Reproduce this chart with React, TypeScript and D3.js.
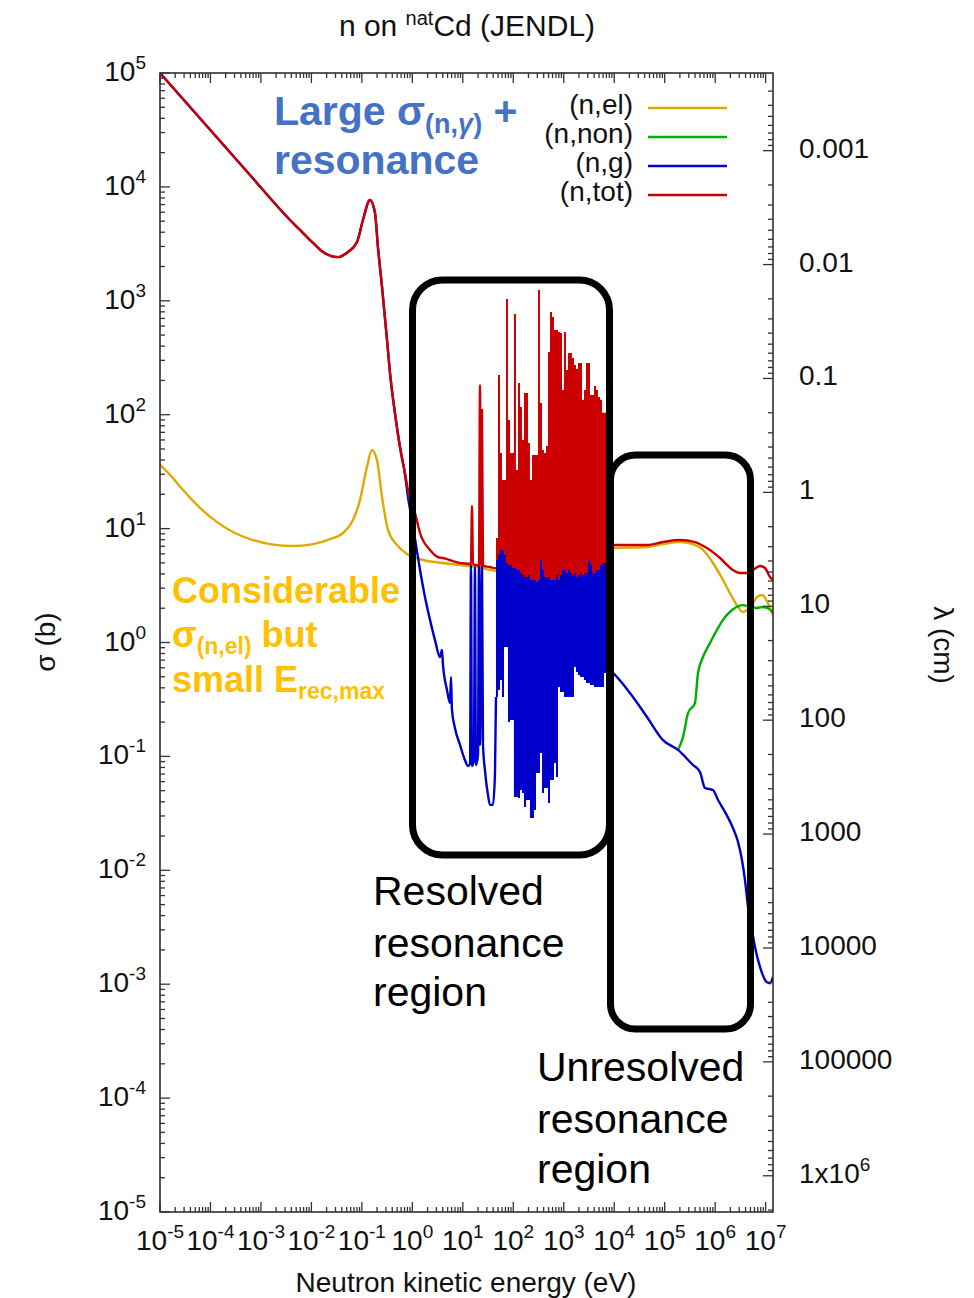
import React from "react";
import * as d3 from "d3";

const W = 974;
const H = 1298;
const FONT = "'Liberation Sans', Arial, Helvetica, sans-serif";

const C_EL = "#e0a800";
const C_NON = "#00b000";
const C_G = "#0000cc";
const C_TOT = "#cc0000";

// ---- data (energy in eV, cross-section in barn) ----
const xExponents = [-5, -4, -3, -2, -1, 0, 1, 2, 3, 4, 5, 6, 7];
const yExponents = [-5, -4, -3, -2, -1, 0, 1, 2, 3, 4, 5];
const lambdaTicks = [1e-3, 1e-2, 1e-1, 1, 10, 100, 1000, 1e4, 1e5, 1e6];
const lambdaLabels = ["0.001", "0.01", "0.1", "1", "10", "100", "1000", "10000", "100000", "1x10^6"];

const totalLow: [number, number][] = [
  [1e-5, 1e5], [6.07e-4, 1.27e4], [3.77e-3, 5120], [5.94e-3, 4190], [1.075e-2, 3220],
  [1.7e-2, 2680], [3.37e-2, 2420], [5.31e-2, 2680], [8.0e-2, 3280], [0.105, 5120],
  [0.145, 7670], [0.182, 5900], [0.208, 2970], [0.251, 1320], [0.315, 453], [0.361, 232],
  [0.453, 103], [0.569, 52], [0.714, 30.8], [0.899, 17.8], [1.13, 13.7], [1.42, 9.15],
  [2.24, 6.49], [3.22, 5.63], [4.05, 5.52], [8.8, 4.99], [13.9, 4.89], [14.5, 4.85],
  [15.2, 15.8], [15.9, 4.85], [18.2, 4.79], [20.9, 4.75], [21.9, 182], [22.9, 4.75],
  [24.0, 110], [25.1, 4.7], [34.6, 4.6], [41.5, 4.5], [45.4, 4.5],
];

const totalHigh: [number, number][] = [
  [6871, 7.03], [9462, 7.18], [4.46e4, 7.18], [9.25e4, 7.62], [2.01e5, 7.94], [3.98e5, 7.62],
  [6.89e5, 6.75], [1.25e6, 5.52], [2.25e6, 4.33], [3.1e6, 4.07], [4.28e6, 4.07], [5.62e6, 4.33],
  [7.73e6, 4.7], [9.7e6, 4.51], [1.22e7, 3.76], [1.4e7, 3.54],
];

const captureLow: [number, number][] = [
  [1e-5, 1e5], [6.07e-4, 1.27e4], [3.77e-3, 5120], [5.94e-3, 4190], [1.075e-2, 3220],
  [1.7e-2, 2680], [3.37e-2, 2420], [5.31e-2, 2680], [8.0e-2, 3280], [0.105, 5120],
  [0.145, 7670], [0.182, 5900], [0.208, 2970], [0.251, 1320], [0.315, 453], [0.361, 232],
  [0.453, 103], [0.569, 52], [0.714, 30], [0.82, 18.9], [0.984, 11.9], [1.18, 7.18],
  [1.42, 4.33], [1.78, 2.51], [2.24, 1.58], [2.81, 1.05], [3.53, 0.746], [3.87, 0.859],
  [4.05, 0.635], [4.86, 0.383], [5.57, 0.294], [5.83, 0.498], [6.1, 0.256], [7.0, 0.177],
  [8.8, 0.126], [11.0, 0.093], [12.7, 0.0824], [13.9, 0.0857], [14.5, 4.79], [15.2, 0.0824],
  [16.6, 0.093], [17.4, 4.6], [18.2, 0.0841], [20.0, 0.103], [20.9, 4.79], [21.9, 0.126],
  [24.0, 4.79], [25.1, 0.126], [27.5, 0.0751], [31.5, 0.0459], [34.6, 0.0375], [39.6, 0.0375],
  [43.4, 0.0715], [45.4, 0.332],
];

const captureHigh: [number, number][] = [
  [6871, 0.61], [9462, 0.54], [2.05e4, 0.36], [4.46e4, 0.222], [9.25e4, 0.139], [1.835e5, 0.114],
  [3.64e5, 0.084], [5.01e5, 0.0729], [6.29e5, 0.0528], [9.06e5, 0.0507], [1.14e6, 0.0414],
  [1.57e6, 0.0325], [2.25e6, 0.0235], [2.84e6, 0.0177], [3.4e6, 0.0123], [3.9e6, 0.00822],
  [4.48e6, 0.00476], [5.37e6, 0.00299], [6.15e6, 0.00212], [7.73e6, 0.00142], [1.064e7, 0.00104],
  [1.22e7, 0.00102], [1.4e7, 0.00116],
];

const elastic: [number, number][] = [
  [1e-5, 36.2], [1.58e-5, 29.6], [2.86e-5, 21.8], [6.2e-5, 15.2], [1.35e-4, 11.4], [2.79e-4, 9.33],
  [6.07e-4, 8.1], [1.51e-3, 7.3], [4.31e-3, 7.03], [1.075e-2, 7.3], [2.33e-2, 8.1], [4.23e-2, 9.15],
  [6.67e-2, 11.9], [9.18e-2, 17.8], [0.126, 34.7], [0.158, 49], [0.199, 40], [0.251, 18.9],
  [0.329, 9.74], [0.497, 7.18], [0.783, 5.99], [1.63, 5.3], [4.05, 4.99], [19.1, 4.6], [54.6, 4.23],
  [6871, 6.49], [9462, 6.75], [4.46e4, 6.89], [9.25e4, 7.32], [2.01e5, 7.62], [3.64e5, 7.3],
  [5.74e5, 6.49], [9.06e5, 4.99], [1.43e6, 3.54], [2.16e6, 2.51], [2.84e6, 2.05], [3.56e6, 1.85],
  [4.28e6, 1.93], [5.62e6, 2.22], [6.75e6, 2.51], [8.47e6, 2.61], [1.11e7, 2.22], [1.4e7, 1.74],
];

const nonelastic: [number, number][] = [
  [1.835e5, 0.114], [2.31e5, 0.148], [2.9e5, 0.24], [3.98e5, 0.294], [4.57e5, 0.54], [5.74e5, 0.746],
  [7.91e5, 0.99], [1.087e6, 1.29], [1.43e6, 1.58], [2.16e6, 1.93], [3.56e6, 2.13], [4.9e6, 2.05],
  [6.75e6, 2.01], [8.47e6, 2.05], [1.064e7, 2.01], [1.4e7, 1.85],
];

// resolved resonance region, read column by column
const resE = [
  45.4, 49.8, 54.6, 59.7, 65.5, 71.8, 78.5, 86.1, 94.4, 103, 113, 124, 136, 149, 163, 179, 196, 214,
  235, 257, 282, 309, 338, 371, 406, 445, 488, 534, 585, 641, 702, 769, 843, 923, 1010, 1107, 1213,
  1330, 1456, 1596, 1749, 1915, 2099, 2300, 2518, 2760, 3020, 3311, 3631, 3972, 4355, 4775, 5224,
  5728, 6266, 6871,
];
const resTotTop = [
  8.27, 223, 46.1, 26.7, 26.7, 1037, 89.8, 46.1, 46.1, 766, 32.7, 190, 117, 60, 155, 155, 56.5, 26.7,
  44.3, 44.3, 44.3, 1245, 127, 49, 46.1, 53.1, 355, 798, 721, 554, 554, 532, 521, 165, 532, 247, 348,
  348, 315, 273, 252, 284, 284, 135, 165, 284, 284, 149, 149, 179, 165, 143, 135, 104, 104, 34.7,
];
const resTotBottom = [
  5.3, 5.86, 6.49, 6.49, 5.86, 4.99, 4.79, 4.79, 4.51, 4.51, 4.33, 4.33, 4.07, 3.92, 3.76, 3.76, 3.92,
  3.54, 3.54, 3.54, 3.4, 3.54, 5.3, 4.33, 3.76, 3.76, 3.76, 3.54, 3.54, 3.54, 3.92, 3.54, 3.92, 4.33,
  4.33, 4.07, 4.33, 4.07, 3.92, 4.07, 3.76, 3.92, 4.07, 3.92, 4.07, 4.07, 5.3, 4.79, 4.07, 4.07, 4.33,
  4.33, 4.79, 4.99, 4.99, 4.99,
];
const resCapBottom = [
  0.332, 0.383, 0.469, 0.332, 0.913, 0.913, 0.2, 0.209, 0.209, 0.0441, 0.0441, 0.0432, 0.0507, 0.0478,
  0.036, 0.0414, 0.0414, 0.0288, 0.0288, 0.0338, 0.0715, 0.0715, 0.107, 0.0478, 0.0528, 0.0528, 0.039,
  0.0621, 0.0621, 0.0875, 0.0659, 0.406, 0.367, 0.367, 0.332, 0.332, 0.332, 0.332, 0.332, 0.61, 0.551,
  0.519, 0.498, 0.498, 0.469, 0.441, 0.441, 0.424, 0.424, 0.406, 0.406, 0.406, 0.406, 0.406, 0.54, 0.61,
];

const legendItems = [
  { label: "(n,el)", color: C_EL },
  { label: "(n,non)", color: C_NON },
  { label: "(n,g)", color: C_G },
  { label: "(n,tot)", color: C_TOT },
];

// ---- scales ----
const PL = 160, PR = 773, PT = 73, PB = 1212;
const x = d3.scaleLog().domain([1e-5, 1.4e7]).range([PL, PR]);
const y = d3.scaleLog().domain([1e-5, 1e5]).range([PB, PT]);
const yLam = d3.scaleLog().domain([2.08e-4, 2.08e6]).range([PT, PB]);

const line = d3
  .line<[number, number]>()
  .curve(d3.curveMonotoneX)
  .x((d) => x(d[0]))
  .y((d) => y(d[1]));

const resIdx = resE.map((_, i) => i);
const totArea = d3
  .area<number>()
  .curve(d3.curveStepAfter)
  .x((i) => x(resE[i]))
  .y0((i) => y(resTotBottom[i]))
  .y1((i) => y(resTotTop[i]));
const capArea = d3
  .area<number>()
  .curve(d3.curveStepAfter)
  .x((i) => x(resE[i]))
  .y0((i) => y(resCapBottom[i]))
  .y1((i) => y(resTotBottom[i]));

function minorTicks(loExp: number, hiExp: number, lo: number, hi: number) {
  const out: number[] = [];
  for (let e = loExp; e <= hiExp; e++) {
    for (let m = 2; m <= 9; m++) {
      const v = m * Math.pow(10, e);
      if (v > lo && v < hi) out.push(v);
    }
  }
  return out;
}

export default function App() {
  const xMinor = minorTicks(-5, 7, 1e-5, 1.4e7);
  const yMinor = minorTicks(-5, 4, 1e-5, 1e5);
  const lamMinor = minorTicks(-4, 6, 2.08e-4, 2.08e6);
  const tickColor = "#333";
  const lw = 2.4;

  return (
    <svg
      width={W}
      height={H}
      viewBox={`0 0 ${W} ${H}`}
      style={{ position: "absolute", left: 0, top: 0, background: "#fff" }}
      fontFamily={FONT}
    >
      <rect x={0} y={0} width={W} height={H} fill="#fff" />
      <defs>
        <clipPath id="plotClip">
          <rect x={PL} y={PT} width={PR - PL} height={PB - PT} />
        </clipPath>
      </defs>

      {/* title */}
      <text x={467} y={36} textAnchor="middle" fontSize={30} fill="#111">
        n on <tspan fontSize={20} dy={-11}>nat</tspan>
        <tspan dy={11}>Cd (JENDL)</tspan>
      </text>

      {/* curves */}
      <g clipPath="url(#plotClip)" fill="none" strokeLinejoin="round">
        <path d={line(elastic) || ""} stroke={C_EL} strokeWidth={lw} />
        <path d={line(nonelastic) || ""} stroke={C_NON} strokeWidth={lw} />
        <path d={capArea(resIdx) || ""} fill={C_G} stroke="none" />
        <path d={line(captureLow) || ""} stroke={C_G} strokeWidth={lw} />
        <path d={line(captureHigh) || ""} stroke={C_G} strokeWidth={lw} />
        <path d={totArea(resIdx) || ""} fill={C_TOT} stroke="none" />
        <path d={line(totalLow) || ""} stroke={C_TOT} strokeWidth={lw} />
        <path d={line(totalHigh) || ""} stroke={C_TOT} strokeWidth={lw} />
      </g>

      {/* frame */}
      <rect x={PL} y={PT} width={PR - PL} height={PB - PT} fill="none" stroke="#222" strokeWidth={1.5} />

      {/* ticks */}
      <g stroke={tickColor} strokeWidth={1.3}>
        {xExponents.map((e) => {
          const xv = x(Math.pow(10, e));
          return (
            <g key={"xt" + e}>
              <line x1={xv} x2={xv} y1={PB} y2={PB - 10} />
              <line x1={xv} x2={xv} y1={PT} y2={PT + 10} />
            </g>
          );
        })}
        {xMinor.map((v, i) => (
          <g key={"xm" + i}>
            <line x1={x(v)} x2={x(v)} y1={PB} y2={PB - 5} />
            <line x1={x(v)} x2={x(v)} y1={PT} y2={PT + 5} />
          </g>
        ))}
        {yExponents.map((e) => {
          const yv = y(Math.pow(10, e));
          return <line key={"yt" + e} x1={PL} x2={PL + 10} y1={yv} y2={yv} />;
        })}
        {yMinor.map((v, i) => (
          <line key={"ym" + i} x1={PL} x2={PL + 5} y1={y(v)} y2={y(v)} />
        ))}
        {lambdaTicks.map((v, i) => (
          <line key={"lt" + i} x1={PR} x2={PR - 10} y1={yLam(v)} y2={yLam(v)} />
        ))}
        {lamMinor.map((v, i) => (
          <line key={"lm" + i} x1={PR} x2={PR - 5} y1={yLam(v)} y2={yLam(v)} />
        ))}
      </g>

      {/* tick labels */}
      <g fontSize={28} fill="#111">
        {xExponents.map((e) => (
          <text key={"xl" + e} x={x(Math.pow(10, e))} y={1250} textAnchor="middle">
            10<tspan fontSize={19} dy={-12}>{e}</tspan>
          </text>
        ))}
        {yExponents.map((e) => (
          <text key={"yl" + e} x={146} y={y(Math.pow(10, e)) + 8} textAnchor="end">
            10<tspan fontSize={19} dy={-12}>{e}</tspan>
          </text>
        ))}
        {lambdaTicks.map((v, i) => {
          const lab = lambdaLabels[i];
          const parts = lab.split("^");
          return (
            <text key={"ll" + i} x={799} y={yLam(v) + 7} textAnchor="start">
              {parts[0]}
              {parts.length > 1 ? (
                <tspan fontSize={19} dy={-12}>
                  {parts[1]}
                </tspan>
              ) : null}
            </text>
          );
        })}
      </g>

      {/* axis titles */}
      <text x={466} y={1292} textAnchor="middle" fontSize={28} fill="#111">
        Neutron kinetic energy (eV)
      </text>
      <text transform="translate(55,642) rotate(-90)" textAnchor="middle" fontSize={28} fill="#111">
        σ (b)
      </text>
      <text transform="translate(934,645) rotate(90)" textAnchor="middle" fontSize={28} fill="#111">
        λ (cm)
      </text>

      {/* legend */}
      <g fontSize={28} fill="#111">
        {legendItems.map((d, i) => (
          <g key={d.label}>
            <text x={633} y={114 + i * 29} textAnchor="end">
              {d.label}
            </text>
            <line x1={648} x2={727} y1={108 + i * 29} y2={108 + i * 29} stroke={d.color} strokeWidth={2.6} />
          </g>
        ))}
      </g>

      {/* boxes */}
      <rect x={412.5} y={280} width={197} height={575} rx={30} ry={30} fill="none" stroke="#000" strokeWidth={7} />
      <rect x={610.5} y={455} width={140} height={574} rx={25} ry={25} fill="none" stroke="#000" strokeWidth={7} />

      {/* annotations */}
      <g fontWeight="bold" fill="#4472c4">
        <text x={274} y={125} fontSize={41}>
          Large σ<tspan fontSize={27} dy={8}>(n,</tspan>
          <tspan fontSize={27} fontStyle="italic">γ</tspan>
          <tspan fontSize={27}>)</tspan>
          <tspan dy={-8}> +</tspan>
        </text>
        <text x={274} y={174} fontSize={41}>
          resonance
        </text>
      </g>
      <g fontWeight="bold" fill="#ffc000">
        <text x={172} y={603} fontSize={36}>
          Considerable
        </text>
        <text x={172} y={647} fontSize={36}>
          σ<tspan fontSize={23} dy={7}>(n,el)</tspan>
          <tspan dy={-7}> but</tspan>
        </text>
        <text x={172} y={692} fontSize={36}>
          small E<tspan fontSize={23} dy={7}>rec,max</tspan>
        </text>
      </g>
      <g fontSize={41} fill="#000">
        <text x={373} y={905}>Resolved</text>
        <text x={373} y={957}>resonance</text>
        <text x={373} y={1006}>region</text>
        <text x={537} y={1081}>Unresolved</text>
        <text x={537} y={1133}>resonance</text>
        <text x={537} y={1183}>region</text>
      </g>
    </svg>
  );
}
